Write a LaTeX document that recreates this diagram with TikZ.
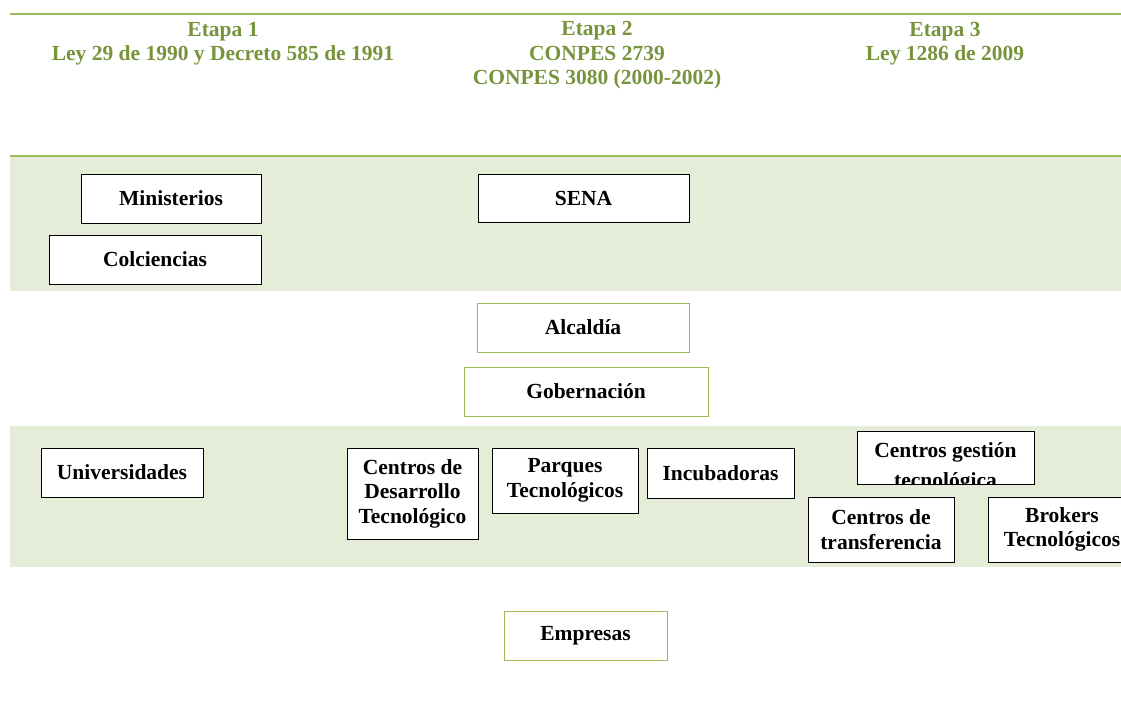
\documentclass[tikz,border=0pt]{standalone}
\usepackage{fontspec}
\setmainfont{Liberation Serif}
\usepackage{xcolor}
\definecolor{olivo}{HTML}{9BBB59}
\definecolor{olivoosc}{HTML}{77933C}
\definecolor{olivoclaro}{HTML}{E5EDD8}
\begin{document}
\begin{tikzpicture}[x=1pt, y=-1pt,
    txt/.style={font=\fontsize{21.5}{24.5}\selectfont\bfseries, align=center, inner sep=0pt},
    caja/.style={txt, draw=black, line width=1pt, fill=white},
    cajav/.style={caja, draw=olivo},
    etapa/.style={txt, text=olivoosc},
    linea/.style={olivo, line width=2.6pt},
    banda/.style={fill=olivoclaro}]
  \useasboundingbox (0,0) rectangle (1121,702);
  \fill[banda] (10,157) rectangle (1121,291);
  \fill[banda] (10,426) rectangle (1121,567);
  \draw[linea] (10,14) -- (1121,14);
  \draw[linea] (10,156) -- (1121,156);
  \node[etapa] (et1) at (223,43.5) {Etapa 1\\Ley 29 de 1990 y Decreto 585 de 1991};
  \node[etapa] (et2) at (597,55.5) {Etapa 2\\CONPES 2739\\CONPES 3080 (2000-2002)};
  \node[etapa] (et3) at (945,43.5) {Etapa 3\\Ley 1286 de 2009};
  \node[caja, minimum width=180, minimum height=49] (min) at (171,198.5) {Ministerios};
  \node[caja, minimum width=212, minimum height=49] (colc) at (155,259.5) {Colciencias};
  \node[caja, minimum width=211, minimum height=48] (sena) at (583.5,198) {SENA};
  \node[cajav, minimum width=212, minimum height=49] (alc) at (583,327.5) {Alcaldía};
  \node[cajav, minimum width=244, minimum height=49] (gob) at (586,391.5) {Gobernación};
  \node[caja, minimum width=162, minimum height=49] (univ) at (122,472.5) {Universidades};
  \node[caja, minimum width=131, minimum height=91] (cdt) at (412.5,493.5) {Centros de\\Desarrollo\\Tecnológico};
  \node[caja, minimum width=146, minimum height=65] (parq) at (565,480.5) {Parques\\Tecnológicos};
  \node[caja, minimum width=147, minimum height=50] (incu) at (720.5,473) {Incubadoras};
  \node[caja, minimum width=177, minimum height=53, path picture={
      \node[txt, anchor=base] at ([yshift=0.5pt]path picture bounding box.center) {Centros gestión};
      \node[txt, anchor=base] at ([yshift=-30pt]path picture bounding box.center) {tecnológica};
    }] (cgt) at (945.5,457.5) {};
  \node[caja, minimum width=146, minimum height=65] (ctrans) at (881,529.5) {Centros de\\transferencia};
  \node[caja, minimum width=190, minimum height=65,
    label={[txt, xshift=-21pt]center:{Brokers\\Tecnológicos}}] (brok) at (1083,529.5) {};
  \node[cajav, minimum width=163, minimum height=49] (emp) at (585.5,635.5) {Empresas};
\end{tikzpicture}
\end{document}
